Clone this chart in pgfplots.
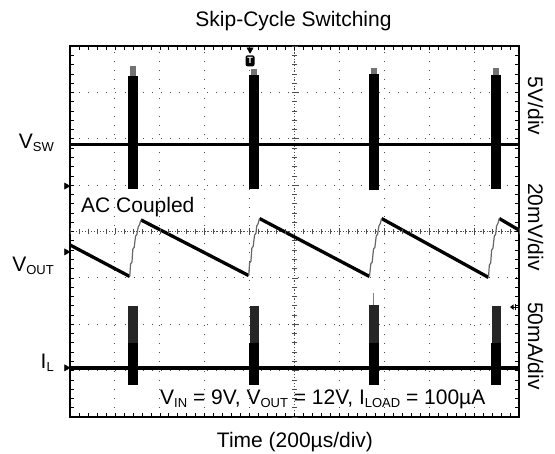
\documentclass[border=0pt]{standalone}
\usepackage{fontspec}
\setmainfont{Liberation Sans}
\usepackage{pgfplots}
\pgfplotsset{compat=1.18}
\newcommand{\sub}[1]{\raisebox{-2.5pt}{\fontsize{13}{13}\selectfont #1}}
\begin{document}
\begin{tikzpicture}[font=\fontsize{21}{25}\selectfont]
\begin{axis}[name=main, width=449pt, height=371pt, scale only axis,
  xmin=0, xmax=10, ymin=0, ymax=8,
  xtick={0,...,10}, ytick={0,...,8}, xticklabels={}, yticklabels={},
  minor x tick num=4, minor y tick num=4,
  tick align=inside, tick pos=both,
  major tick length=4pt, minor tick length=4pt,
  tick style={black, line width=0.6pt},
  grid=major,
  major grid style={black!70, line width=0.9pt, dash pattern=on 0.9pt off 8.2pt},
  extra x ticks={5}, extra y ticks={4}, extra x tick labels={}, extra y tick labels={},
  extra tick style={grid=major, major grid style={black!70, line width=0.9pt, dash pattern=on 0.9pt off 2.1pt}},
  axis line style={black, line width=2.6pt},
  clip=false]
% ---- V_SW trace
\addplot[black, line width=3.5pt] coordinates {(0,5.88) (10,5.88)};
\addplot[fill=black, draw=none] coordinates {(1.29,4.92) (1.51,4.92) (1.51,7.36) (1.29,7.36)} -- cycle;
\addplot[fill=black, draw=none] coordinates {(3.99,4.92) (4.21,4.92) (4.21,7.37) (3.99,7.37)} -- cycle;
\addplot[fill=black, draw=none] coordinates {(6.66,4.90) (6.88,4.90) (6.88,7.40) (6.66,7.40)} -- cycle;
\addplot[fill=black, draw=none] coordinates {(9.38,4.92) (9.60,4.92) (9.60,7.37) (9.38,7.37)} -- cycle;
\addplot[fill=black!55, draw=none] coordinates {(1.34,7.36) (1.46,7.36) (1.46,7.56) (1.34,7.56)} -- cycle;
\addplot[fill=black!55, draw=none] coordinates {(4.04,7.37) (4.16,7.37) (4.16,7.50) (4.04,7.50)} -- cycle;
\addplot[fill=black!55, draw=none] coordinates {(6.71,7.40) (6.83,7.40) (6.83,7.52) (6.71,7.52)} -- cycle;
\addplot[fill=black!55, draw=none] coordinates {(9.43,7.37) (9.55,7.37) (9.55,7.52) (9.43,7.52)} -- cycle;
% ---- V_OUT trace (AC coupled)
\addplot[black, line width=3.3pt] coordinates {(0,3.71) (1.33,3.03)};
\addplot[black, line width=3.3pt] coordinates {(1.58,4.25) (3.98,3.05)};
\addplot[black, line width=3.3pt] coordinates {(4.22,4.28) (6.67,3.03)};
\addplot[black, line width=3.3pt] coordinates {(6.94,4.28) (9.32,3.01)};
\addplot[black, line width=3.3pt] coordinates {(9.56,4.28) (10,4.03)};
\addplot[black!60, line width=1.2pt] coordinates {(1.33,3.03) (1.35,3.30) (1.38,3.34) (1.40,3.62) (1.43,3.66) (1.46,3.90) (1.49,3.94) (1.52,4.10) (1.55,4.15) (1.58,4.25)};
\addplot[black!60, line width=1.2pt] coordinates {(3.98,3.05) (4.00,3.32) (4.03,3.36) (4.05,3.64) (4.08,3.68) (4.11,3.92) (4.14,3.96) (4.16,4.12) (4.19,4.17) (4.22,4.28)};
\addplot[black!60, line width=1.2pt] coordinates {(6.67,3.03) (6.70,3.30) (6.73,3.34) (6.76,3.62) (6.79,3.66) (6.82,3.90) (6.85,3.94) (6.88,4.12) (6.91,4.17) (6.94,4.28)};
\addplot[black!60, line width=1.2pt] coordinates {(9.32,3.01) (9.34,3.28) (9.37,3.32) (9.39,3.60) (9.42,3.64) (9.45,3.90) (9.48,3.94) (9.50,4.12) (9.53,4.17) (9.56,4.28)};
% ---- I_L trace
\addplot[black, line width=3.5pt] coordinates {(0,1.06) (10,1.06)};
\addplot[fill=black!85, draw=none] coordinates {(1.30,1.60) (1.51,1.60) (1.51,2.40) (1.30,2.40)} -- cycle;
\addplot[fill=black!85, draw=none] coordinates {(4.00,1.60) (4.21,1.60) (4.21,2.40) (4.00,2.40)} -- cycle;
\addplot[fill=black!85, draw=none] coordinates {(6.67,1.60) (6.88,1.60) (6.88,2.42) (6.67,2.42)} -- cycle;
\addplot[fill=black!85, draw=none] coordinates {(9.39,1.60) (9.60,1.60) (9.60,2.40) (9.39,2.40)} -- cycle;
\addplot[fill=black, draw=none] coordinates {(1.29,0.69) (1.51,0.69) (1.51,1.60) (1.29,1.60)} -- cycle;
\addplot[fill=black, draw=none] coordinates {(3.99,0.69) (4.21,0.69) (4.21,1.60) (3.99,1.60)} -- cycle;
\addplot[fill=black, draw=none] coordinates {(6.66,0.69) (6.88,0.69) (6.88,1.60) (6.66,1.60)} -- cycle;
\addplot[fill=black, draw=none] coordinates {(9.38,0.69) (9.60,0.69) (9.60,1.60) (9.38,1.60)} -- cycle;
\addplot[black!50, line width=1pt] coordinates {(6.76,2.42) (6.76,2.67)};
% ---- channel markers
\addplot[only marks, mark=triangle*, mark size=3.6pt, mark options={rotate=-90, fill=black}] coordinates {(-0.08,4.98) (-0.08,3.56) (-0.08,1.06)};
\addplot[only marks, mark=triangle*, mark size=3.6pt, mark options={rotate=180, fill=black}] coordinates {(4.01,7.92)};
\node[fill=black, text=white, rounded corners=2pt, inner sep=0.8pt, minimum width=9pt, minimum height=11pt, font=\fontsize{9}{9}\selectfont\bfseries] at (axis cs:4.01,7.68) {T};
\draw[black, line width=0.8pt] (axis cs:9.84,2.37) -- (axis cs:10.0,2.37);
\draw[black, line width=0.8pt] (axis cs:9.93,2.30) -- (axis cs:9.93,2.44);
\fill[black] (axis cs:9.80,2.37) -- (axis cs:9.88,2.43) -- (axis cs:9.88,2.31) -- cycle;
\draw[black, line width=2.6pt] (rel axis cs:0,0) rectangle (rel axis cs:1,1);
\end{axis}
\begin{axis}[width=449pt, height=371pt, scale only axis,
  xmin=-5, xmax=5, ymin=-4, ymax=4,
  axis lines=center, axis line style={draw=none,-},
  xtick={-5,...,5}, ytick={-4,...,4}, xticklabels={}, yticklabels={},
  minor x tick num=4, minor y tick num=4,
  tick align=center, major tick length=6pt, minor tick length=5pt,
  tick style={black!70, line width=0.6pt}]
\end{axis}
% ---- texts
\node[anchor=base, inner sep=0pt] at (223.5pt,390pt) {Skip-Cycle Switching};
\node[anchor=base, inner sep=0pt] at (225pt,-31pt) {Time (200µs/div)};
\node[anchor=base east, inner sep=0pt] at (-16pt,268pt) {V\sub{SW}};
\node[anchor=base east, inner sep=0pt] at (-16pt,145pt) {V\sub{OUT}};
\node[anchor=base east, inner sep=0pt] at (-16pt,48pt) {I\sub{L}};
\node[anchor=base, rotate=-90, inner sep=0pt] at (458pt,311pt) {5V/div};
\node[anchor=base, rotate=-90, inner sep=0pt] at (458pt,190pt) {20mV/div};
\node[anchor=base, rotate=-90, inner sep=0pt] at (458pt,71pt) {50mA/div};
\node[anchor=base west, inner sep=0pt] at (11pt,204pt) {AC Coupled};
\node[anchor=base west, inner sep=0pt] at (90pt,12pt) {V\sub{IN} = 9V, V\sub{OUT} = 12V, I\sub{LOAD} = 100µA};
\pgfresetboundingbox
\path[use as bounding box] (-70pt,-37pt) rectangle (485pt,417pt);
\end{tikzpicture}
\end{document}
